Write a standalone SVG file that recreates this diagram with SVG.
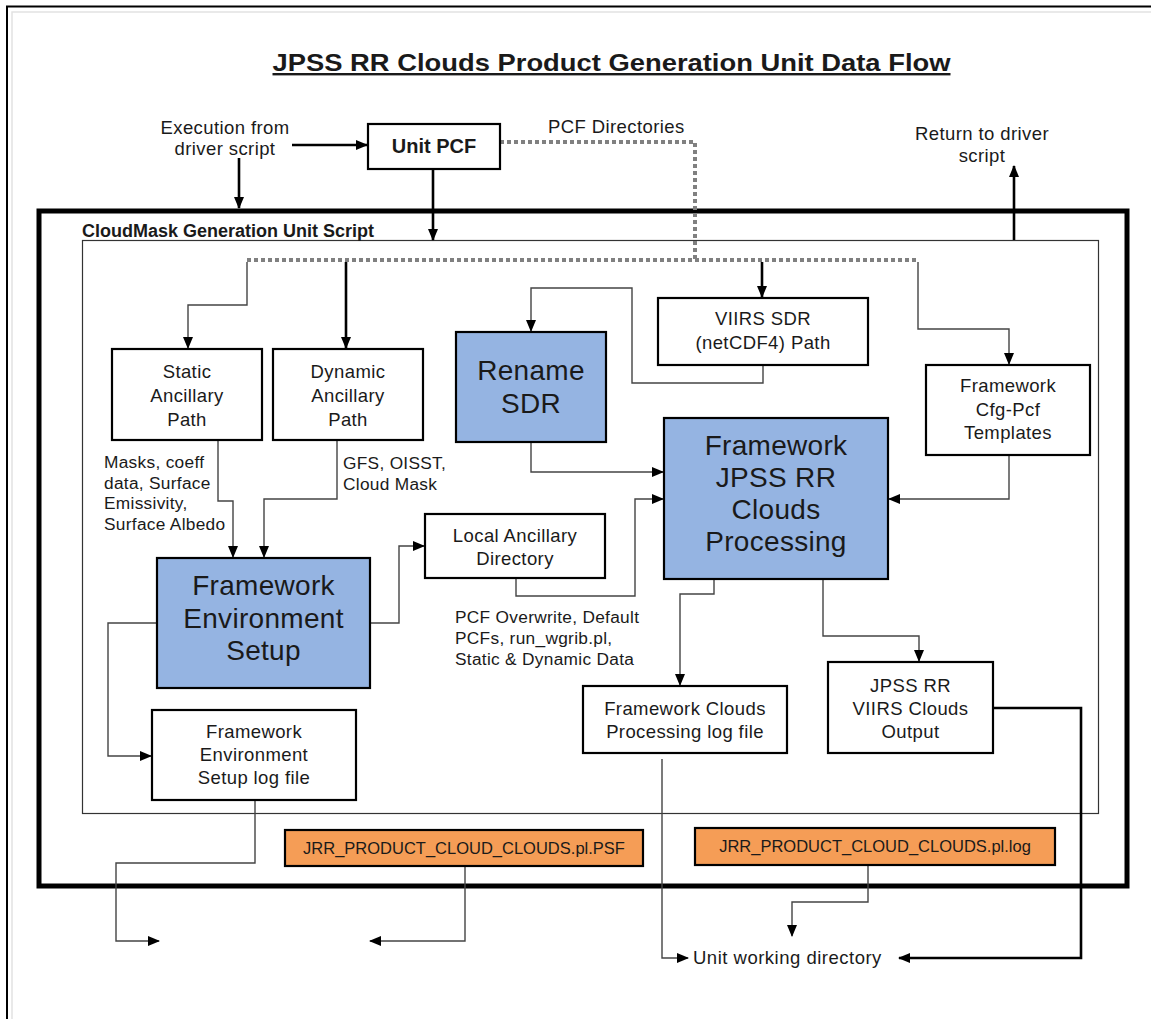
<svg xmlns="http://www.w3.org/2000/svg" width="1151" height="1019" viewBox="0 0 1151 1019">
<defs>
<marker id="ah" markerUnits="userSpaceOnUse" markerWidth="12" markerHeight="10" refX="11" refY="5" orient="auto"><path d="M0,0 L12,5 L0,10 Z" fill="#000"/></marker>
<style>
text{font-family:"Liberation Sans",Arial,sans-serif;fill:#1a1a1a;}
.box{fill:#fff;stroke:#000;stroke-width:2.2;}
.blue{fill:#95B4E2;stroke:#000;stroke-width:2.2;}
.orange{fill:#F59D56;stroke:#000;stroke-width:2.2;}
.t{font-size:18.5px;text-anchor:middle;letter-spacing:0.4px;}
.big{font-size:28px;text-anchor:middle;letter-spacing:0.3px;}
.lab{font-size:17.3px;letter-spacing:0.3px;}
.thin{fill:none;stroke:#444;stroke-width:1.4;}
.thick{fill:none;stroke:#000;stroke-width:2.6;}
.dash{fill:none;stroke:#808080;stroke-width:4;stroke-dasharray:4 3;}
</style>
</defs>
<rect width="1151" height="1019" fill="#fff"/>
<path d="M12,1019 V12 H1151" fill="none" stroke="#e2e2e2" stroke-width="1.5"/>
<path d="M7,1019 V6.5 H1151" fill="none" stroke="#000" stroke-width="2"/>
<text x="611.5" y="71" font-size="24" font-weight="bold" text-anchor="middle" textLength="678" lengthAdjust="spacingAndGlyphs" text-decoration="underline">JPSS RR Clouds Product Generation Unit Data Flow</text>

<g id="outer-script"><rect x="39" y="211" width="1088" height="675" fill="none" stroke="#000" stroke-width="5"/></g>
<g id="inner-script"><rect x="82.5" y="240.5" width="1016" height="573" fill="none" stroke="#333" stroke-width="1.2"/>
<text x="82" y="237" font-size="18" font-weight="bold">CloudMask Generation Unit Script</text></g>

<g id="labels">
<text class="t" x="225" y="134">Execution from</text>
<text class="t" x="225" y="155">driver script</text>
<text x="548" y="133" font-size="18.5" letter-spacing="0.4">PCF Directories</text>
<text class="t" x="982" y="140">Return to driver</text>
<text class="t" x="982" y="162">script</text>
<text class="lab" x="104" y="468">Masks, coeff</text>
<text class="lab" x="104" y="489">data, Surface</text>
<text class="lab" x="104" y="509">Emissivity,</text>
<text class="lab" x="104" y="530">Surface Albedo</text>
<text class="lab" x="343" y="469">GFS, OISST,</text>
<text class="lab" x="343" y="490">Cloud Mask</text>
<text class="lab" x="455" y="623">PCF Overwrite, Default</text>
<text class="lab" x="455" y="644">PCFs, run_wgrib.pl,</text>
<text class="lab" x="455" y="665">Static &amp; Dynamic Data</text>
<text x="693" y="964" font-size="18.5" letter-spacing="0.5">Unit working directory</text>
</g>

<g id="connectors">
<path class="dash" d="M500,142 H695 V260"/>
<path class="dash" d="M247,260 H918"/>
<path class="thick" d="M292,145 H367" marker-end="url(#ah)"/>
<path class="thick" d="M239,158 V208" marker-end="url(#ah)"/>
<path class="thick" d="M433,170 V240" marker-end="url(#ah)"/>
<path class="thick" d="M1014,240 V166" marker-end="url(#ah)"/>
<path class="thick" d="M346,262 V348" marker-end="url(#ah)"/>
<path class="thick" d="M762,262 V297" marker-end="url(#ah)"/>
<path class="thick" d="M994,708 H1081 V958 H899" marker-end="url(#ah)"/>
<path class="thin" d="M247,262 V305 H188 V348" marker-end="url(#ah)"/>
<path class="thin" d="M918,262 V329 H1009 V364" marker-end="url(#ah)"/>
<path class="thin" d="M218,441 V501 H233 V557" marker-end="url(#ah)"/>
<path class="thin" d="M337,441 V499 H264 V557" marker-end="url(#ah)"/>
<path class="thin" d="M371,623 H399 V546 H424" marker-end="url(#ah)"/>
<path class="thin" d="M156,623 H108 V756 H151" marker-end="url(#ah)"/>
<path class="thin" d="M763,366 V383 H632 V288 H531 V331" marker-end="url(#ah)"/>
<path class="thin" d="M531,443 V472 H663" marker-end="url(#ah)"/>
<path class="thin" d="M516,579 V596 H635 V499 H663" marker-end="url(#ah)"/>
<path class="thin" d="M1009,456 V499 H889" marker-end="url(#ah)"/>
<path class="thin" d="M714,580 V594 H680 V685" marker-end="url(#ah)"/>
<path class="thin" d="M823,580 V636 H919 V661" marker-end="url(#ah)"/>
<path class="thin" d="M255,801 V863 H116 V941 H159" marker-end="url(#ah)"/>
<path class="thin" d="M465,867 V941 H370" marker-end="url(#ah)"/>
<path class="thin" d="M868,866 V902 H792 V936" marker-end="url(#ah)"/>
<path class="thin" d="M662,759 V958 H688" marker-end="url(#ah)"/>
</g>

<g id="unit-pcf"><rect class="box" x="368" y="124" width="132" height="45"/>
<text x="434" y="153" font-size="20" font-weight="bold" text-anchor="middle">Unit PCF</text></g>

<g id="static-ancillary"><rect class="box" x="112" y="349" width="150" height="91"/>
<text class="t" x="187" y="378">Static</text><text class="t" x="187" y="402">Ancillary</text><text class="t" x="187" y="426">Path</text></g>

<g id="dynamic-ancillary"><rect class="box" x="273" y="349" width="150" height="91"/>
<text class="t" x="348" y="378">Dynamic</text><text class="t" x="348" y="402">Ancillary</text><text class="t" x="348" y="426">Path</text></g>

<g id="rename-sdr"><rect class="blue" x="456" y="332" width="150" height="110"/>
<text class="big" x="531" y="380">Rename</text><text class="big" x="531" y="413">SDR</text></g>

<g id="viirs-sdr"><rect class="box" x="658" y="298" width="210" height="67"/>
<text class="t" x="763" y="325">VIIRS SDR</text><text class="t" x="763" y="349">(netCDF4) Path</text></g>

<g id="cfg-pcf"><rect class="box" x="926" y="365" width="164" height="90"/>
<text class="t" x="1008" y="392">Framework</text><text class="t" x="1008" y="416">Cfg-Pcf</text><text class="t" x="1008" y="439">Templates</text></g>

<g id="clouds-processing"><rect class="blue" x="664" y="418" width="224" height="161"/>
<text class="big" x="776" y="455">Framework</text><text class="big" x="776" y="487">JPSS RR</text><text class="big" x="776" y="519">Clouds</text><text class="big" x="776" y="551">Processing</text></g>

<g id="local-ancillary"><rect class="box" x="425" y="514" width="180" height="64"/>
<text class="t" x="515" y="542">Local Ancillary</text><text class="t" x="515" y="565">Directory</text></g>

<g id="env-setup"><rect class="blue" x="157" y="558" width="213" height="130"/>
<text class="big" x="263.5" y="595">Framework</text><text class="big" x="263.5" y="628">Environment</text><text class="big" x="263.5" y="660">Setup</text></g>

<g id="env-log"><rect class="box" x="152" y="710" width="204" height="90"/>
<text class="t" x="254" y="738">Framework</text><text class="t" x="254" y="761">Environment</text><text class="t" x="254" y="784">Setup log file</text></g>

<g id="clouds-log"><rect class="box" x="583" y="686" width="204" height="67"/>
<text class="t" x="685" y="715">Framework Clouds</text><text class="t" x="685" y="738">Processing log file</text></g>

<g id="clouds-output"><rect class="box" x="828" y="662" width="165" height="91"/>
<text class="t" x="910.5" y="692">JPSS RR</text><text class="t" x="910.5" y="715">VIIRS Clouds</text><text class="t" x="910.5" y="738">Output</text></g>

<g id="psf-file"><rect class="orange" x="285" y="830" width="358" height="36"/>
<text x="464" y="854" font-size="16.5" text-anchor="middle">JRR_PRODUCT_CLOUD_CLOUDS.pl.PSF</text></g>

<g id="log-file"><rect class="orange" x="695" y="828" width="360" height="37"/>
<text x="875" y="852" font-size="16.5" text-anchor="middle">JRR_PRODUCT_CLOUD_CLOUDS.pl.log</text></g>
</svg>
